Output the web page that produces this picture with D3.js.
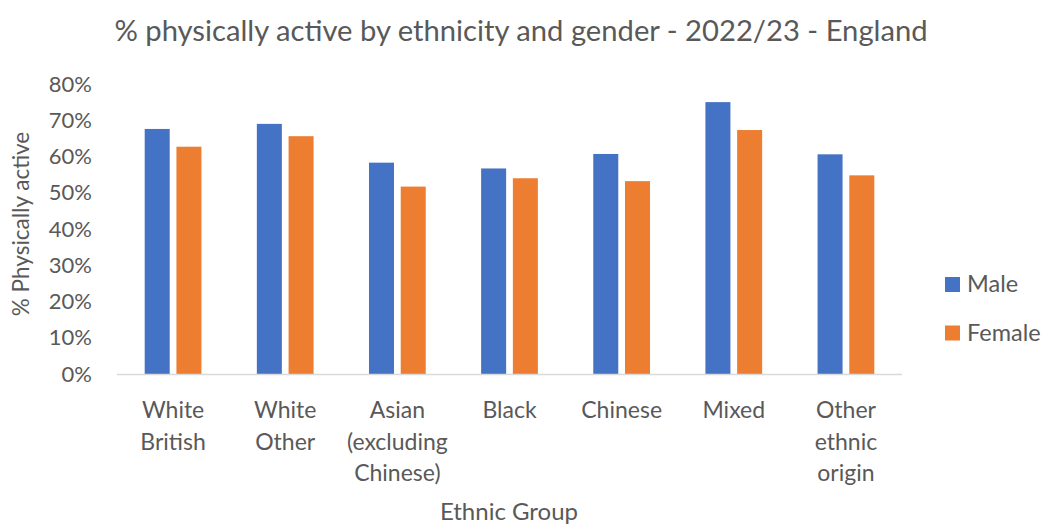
<!DOCTYPE html>
<html>
<head>
<meta charset="utf-8">
<script src="https://cdn.jsdelivr.net/npm/d3@7"></script>
<style>
  html, body { margin: 0; padding: 0; background: #fff; }
  svg text { font-family: Lato, "Open Sans", sans-serif; fill: #595959; }
</style>
</head>
<body>
<svg id="chart" width="1049" height="527"></svg>
<script>
// Ethnic groups (multi-line labels) and % physically active by gender
const groups = [
  ["White", "British"],
  ["White", "Other"],
  ["Asian", "(excluding", "Chinese)"],
  ["Black"],
  ["Chinese"],
  ["Mixed"],
  ["Other", "ethnic", "origin"]
];
const seriesNames = ["Male", "Female"];
const male   = [67.6, 69.0, 58.3, 56.7, 60.7, 75.0, 60.6];
const female = [62.7, 65.6, 51.7, 54.0, 53.2, 67.3, 54.8];
const yTicks = [0, 10, 20, 30, 40, 50, 60, 70, 80];
const colors = ["#4472C4", "#ED7D31"];

const svg = d3.select("#chart");
const W = 1049, H = 527;
const margin = { left: 117, right: W - 902, top: 84, bottom: H - 374 };

const keys = groups.map(g => g.join(" "));
const x = d3.scaleBand().domain(keys).range([margin.left, W - margin.right]).padding(0);
const y = d3.scaleLinear().domain([0, 80]).range([H - margin.bottom, margin.top]);

const barW = x.bandwidth() * 0.223;
const gap = x.bandwidth() * 0.06;

// Title
svg.append("text")
  .attr("x", 521).attr("y", 41)
  .attr("text-anchor", "middle")
  .style("font-size", "29.2px")
  .text("% physically active by ethnicity and gender - 2022/23 - England");

// Y axis tick labels (no axis line)
const yAxis = d3.axisLeft(y).tickValues(yTicks).tickFormat(d => d + "%").tickSize(0).tickPadding(0);
const yg = svg.append("g").attr("transform", "translate(92,0)").call(yAxis);
yg.select(".domain").remove();
yg.selectAll("text")
  .style("font-size", "22px")
  .style("font-family", "Lato, 'Open Sans', sans-serif")
  .attr("fill", "#595959");

// Bars
const series = [male, female];
series.forEach((vals, si) => {
  svg.append("g").selectAll("rect")
    .data(vals)
    .join("rect")
    .attr("x", (d, i) => {
      const c = x(keys[i]) + x.bandwidth() / 2;
      return si === 0 ? c - gap / 2 - barW : c + gap / 2;
    })
    .attr("y", d => y(d))
    .attr("width", barW)
    .attr("height", d => y(0) - y(d))
    .attr("fill", colors[si]);
});

// X axis baseline
svg.append("line")
  .attr("x1", margin.left).attr("x2", W - margin.right)
  .attr("y1", y(0) + 0.5).attr("y2", y(0) + 0.5)
  .attr("stroke", "#D9D9D9").attr("stroke-width", 1.5);

// Category labels
const xl = svg.append("g");
groups.forEach((lines, i) => {
  const cx = x(keys[i]) + x.bandwidth() / 2;
  const t = xl.append("text")
    .attr("x", cx)
    .attr("y", 418)
    .attr("text-anchor", "middle")
    .style("font-size", "23px");
  lines.forEach((ln, j) => {
    t.append("tspan").attr("x", cx).attr("dy", j === 0 ? 0 : 31.5).text(ln);
  });
});

// Axis titles
svg.append("text")
  .attr("x", 509).attr("y", 520)
  .attr("text-anchor", "middle")
  .style("font-size", "24px")
  .text("Ethnic Group");

svg.append("text")
  .attr("transform", "translate(29,224) rotate(-90)")
  .attr("text-anchor", "middle")
  .style("font-size", "22.5px")
  .text("% Physically active");

// Legend
const lg = svg.append("g");
seriesNames.forEach((s, i) => {
  const top = 277 + i * 48.5;
  lg.append("rect").attr("x", 945).attr("y", top).attr("width", 15).attr("height", 15).attr("fill", colors[i]);
  lg.append("text").attr("x", 967).attr("y", top + 15).style("font-size", "23.5px").text(s);
});
</script>
</body>
</html>
